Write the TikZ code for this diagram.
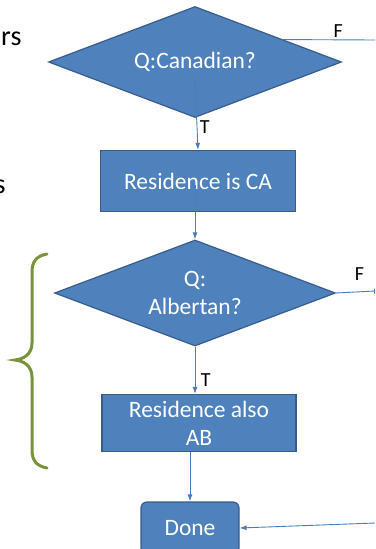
\documentclass[tikz,border=0pt]{standalone}
\usepackage{fontspec}
\setmainfont{Carlito}
\usepackage{tikz}
\usetikzlibrary{shapes.geometric,arrows.meta,calc}
\definecolor{boxfill}{HTML}{4F81BD}
\definecolor{boxline}{HTML}{385D8A}
\definecolor{arrowline}{HTML}{4A7EBB}
\definecolor{braceline}{HTML}{77933C}

\begin{document}
\begin{tikzpicture}%
  [x=1pt,y=-1pt,font=\fontsize{23.5}{28}\selectfont]
  \tikzstyle{dec node}=[diamond,aspect=2.65,fill=boxfill,draw=boxline,line width=1.2pt,
    text=white,inner sep=0,align=center]
  \tikzstyle{box node}=[rectangle,fill=boxfill,draw=boxline,line width=1.2pt,
    text=white,inner sep=0,align=center]
  \tikzstyle{flow}=[draw=arrowline,line width=0.9pt,-{Latex[length=7pt,width=5pt]}]
  \tikzstyle{tf}=[font=\fontsize{20}{24}\selectfont]
  \useasboundingbox (0,0) rectangle (375,549);
  % side text, cut off at the left
  \node(t1)[anchor=base east,font=\fontsize{28}{32}\selectfont] at (25,45){rs};
  \node(t2)[anchor=base east,font=\fontsize{28}{32}\selectfont] at (9,193){s};
  % flow
  \node(c1)[dec node,minimum width=293pt,minimum height=111pt] at (195,62){Q:Canadian?};
  \node(r1)[box node,minimum width=195pt,minimum height=61pt] at (198,181){Residence is CA};
  \node(a2)[dec node,minimum width=281pt,minimum height=106pt] at (195,293)
    {Q:\\Albertan?};
  \node(r2)[box node,minimum width=194pt,minimum height=57pt] at (199,423)
    {Residence also\\AB};
  \node(done)[box node,rounded corners=6pt,minimum width=98pt,minimum height=52pt]
    at (190,528){Done};
  \coordinate(f1) at (375,40);
  \coordinate(f2) at (375,291);
  \coordinate(f3) at (375,523);
  \draw[flow] ([yshift=-18pt]c1.center) -- (r1.north) node[tf,pos=0.68,right=-1pt]{T};
  \draw[flow] ([yshift=-4pt]r1.center -| c1) -- (a2.north);
  \draw[flow] (a2.south) -- (a2.south |- r2.north) node[tf,pos=0.7,right=2pt]{T};
  \draw[flow] (r2.south -| done) -- (done.north);
  \draw[draw=arrowline,line width=0.9pt] ($(c1.north)!0.6!(c1.east)$) -- (f1)
    node[tf,pos=0.6,above=-1pt]{F};
  \draw[draw=arrowline,line width=0.9pt,-{Bar[width=5pt]}] (a2.east) -- (f2)
    node[tf,midway,above=8pt,xshift=4pt]{F};
  \draw[flow] (f3) -- (done.east);
  % brace
  \draw[braceline,line width=3pt,line cap=round]
    (47,254) .. controls (36,256) and (32,262) .. (32,272) -- (32,343)
    .. controls (32,354) and (24,359) .. (15,360)
    .. controls (24,361) and (32,366) .. (32,377) -- (32,450)
    .. controls (32,460) and (36,466) .. (47,468);
\end{tikzpicture}
\end{document}
